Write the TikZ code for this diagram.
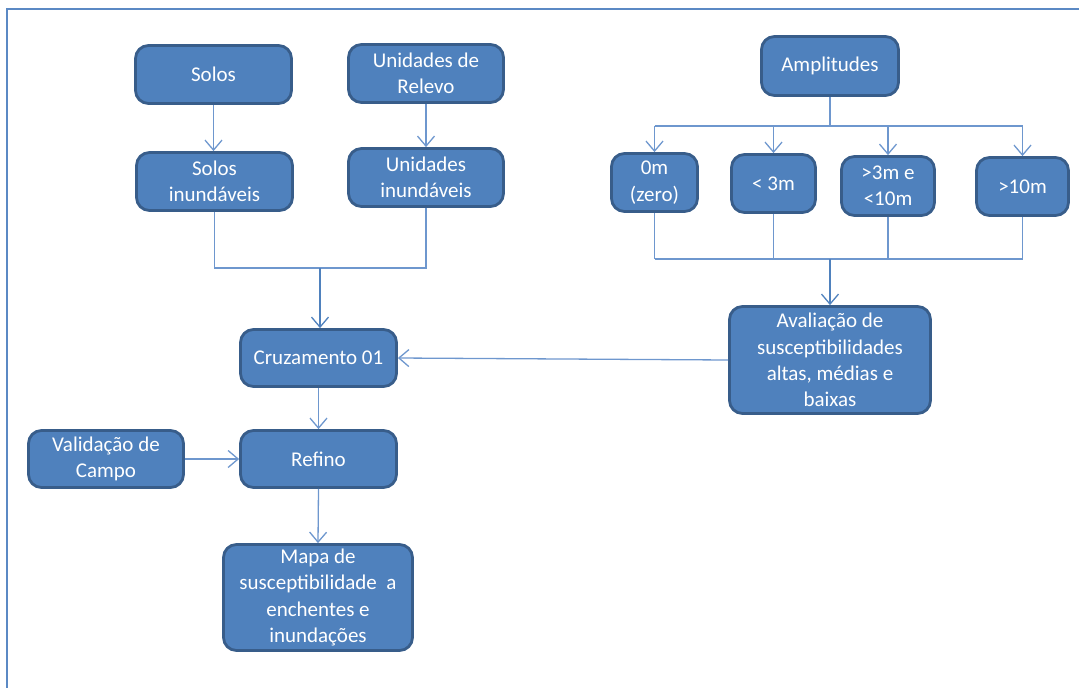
\documentclass[tikz,border=0pt]{standalone}
\usepackage{fontspec}
\setmainfont{Carlito}
\usetikzlibrary{arrows.meta}
\definecolor{boxfill}{HTML}{4F81BD}
\definecolor{boxline}{HTML}{385D8A}
\definecolor{conn}{HTML}{6E97CE}
\definecolor{frame}{HTML}{5B89C4}
\tikzset{
  box/.style={draw=boxline, line width=2.8pt, fill=boxfill, rounded corners=13pt,
    text=white, align=center, inner sep=1pt,
    font=\fontsize{21}{26.3}\selectfont},
  conn/.style={draw=conn, line width=1.3pt},
  arr/.style={conn, -{Straight Barb[length=10pt,width=17pt,line width=1.3pt]}},
}
\begin{document}
\begin{tikzpicture}[x=1pt,y=-1pt]
\useasboundingbox (0,0) rectangle (1079,688);
\draw[frame, line width=2pt] (7,688) -- (7,9) -- (1079,9);

\node[box, minimum width=156pt, minimum height=58pt] (solos) at (213.5,74.5) {Solos};
\node[box, minimum width=155pt, minimum height=58pt] (relevo) at (426,73.5) {Unidades de\\Relevo};
\node[box, minimum width=156pt, minimum height=58pt] (solosi) at (214.5,181.5) {Solos\\inundáveis};
\node[box, minimum width=155pt, minimum height=58pt] (relevoi) at (426,177.5) {Unidades\\inundáveis};
\node[box, minimum width=156pt, minimum height=57pt] (cruz) at (318.5,358) {Cruzamento 01};
\node[box, minimum width=156pt, minimum height=57pt] (refino) at (318.5,459) {Refino};
\node[box, minimum width=155pt, minimum height=57pt] (valid) at (106,459) {Validação de\\Campo};
\node[box, minimum width=189pt, minimum height=106pt] (mapa) at (318,597.5) {Mapa de\\susceptibilidade\ \ a\\enchentes e\\inundações};
\node[box, minimum width=201pt, minimum height=107pt] (aval) at (830,360) {Avaliação de\\susceptibilidades\\altas, médias e\\baixas};
\node[box, minimum width=137pt, minimum height=59pt] (ampl) at (830,66) {Amplitudes};
\node[box, minimum width=86pt, minimum height=58pt] (z0) at (654.5,182.5) {0m\\(zero)};
\node[box, minimum width=84pt, minimum height=58pt] (m3) at (773.5,183.5) {< 3m};
\node[box, minimum width=93pt, minimum height=59pt] (m310) at (888,186) {>3m e\\<10m};
\node[box, minimum width=92pt, minimum height=58pt] (m10) at (1022.5,186.5) {>10m};

% left branch
\draw[arr] (solos.south) -- (solos.south |- solosi.north);
\draw[arr] (relevo.south) -- (relevo.south |- relevoi.north);
\coordinate (j1) at (320,268);
\draw[conn] (solosi.south) |- (j1) -| (relevoi.south);
\draw[arr, draw=boxfill] (j1) -- (j1 |- cruz.north);

% amplitudes top
\coordinate (ja) at (830,126);
\draw[conn] (ampl.south) -- (ja);
\draw[conn] (ja -| z0) -- (ja -| m10);
\foreach \b in {z0,m3,m310,m10}{
  \draw[arr] (ja -| \b) -- (\b.north);
}
% amplitudes bottom
\coordinate (jb) at (830,259);
\foreach \b in {z0,m3,m310,m10}{
  \draw[conn] (\b.south) -- (jb -| \b);
}
\draw[conn] (jb -| z0) -- (jb -| m10);
\draw[arr, draw=boxfill] (jb) -- (aval.north);

\draw[arr] (aval.west) -- (cruz.east);
\draw[arr] (cruz.south) -- (refino.north);
\draw[arr] (valid.east) -- (refino.west);
\draw[arr] (refino.south) -- (mapa.north);
\end{tikzpicture}
\end{document}
